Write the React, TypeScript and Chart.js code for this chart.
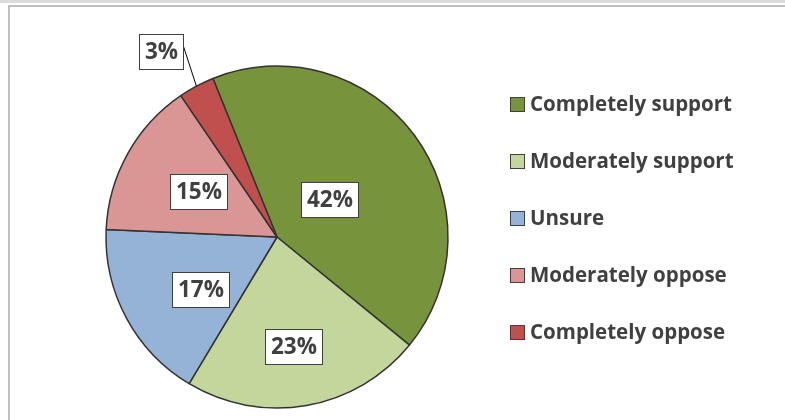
import React, { useEffect, useRef } from "react";
import { Chart, registerables } from "chart.js";

Chart.register(...registerables);

const categories = [
  "Completely support",
  "Moderately support",
  "Unsure",
  "Moderately oppose",
  "Completely oppose",
];
const shares = [42.0, 22.7, 17.1, 14.8, 3.4];
const shareLabels = ["42%", "23%", "17%", "15%", "3%"];
const colors = ["#77933C", "#C3D69B", "#95B3D7", "#D99694", "#C0504D"];

// label placement: fraction of radius and small angular nudge (degrees)
const labelPlacement = [
  { f: 0.38, da: 1 },
  { f: 0.645, da: 1.5 },
  { f: 0.54, da: -6 },
  { f: 0.53, da: 1 },
  { f: 1.28, da: -4 },
];

const FONT = "'Open Sans', Lato, sans-serif";
const TEXT = "#404040";

const labelPlugin = {
  id: "boxLabels",
  afterDatasetsDraw(chart: any) {
    const ctx = chart.ctx;
    const meta = chart.getDatasetMeta(0);
    ctx.save();
    meta.data.forEach((arc: any, i: number) => {
      const p = arc.getProps(["x", "y", "startAngle", "endAngle", "outerRadius"], true);
      const { f, da } = labelPlacement[i];
      const midRaw = (p.startAngle + p.endAngle) / 2;
      const mid = midRaw + (da * Math.PI) / 180;
      const lx = p.x + Math.cos(mid) * p.outerRadius * f;
      const ly = p.y + Math.sin(mid) * p.outerRadius * f;
      const text = shareLabels[i];
      ctx.font = `bold 22.5px ${FONT}`;
      const tw = ctx.measureText(text).width;
      const bw = Math.round(tw + 11);
      const bh = 35;
      const bx = Math.round(lx - bw / 2) + 0.5;
      const by = Math.round(ly - bh / 2) + 0.5;
      if (f > 1) {
        const ax = p.x + Math.cos(midRaw) * p.outerRadius;
        const ay = p.y + Math.sin(midRaw) * p.outerRadius;
        ctx.beginPath();
        ctx.strokeStyle = "#000";
        ctx.lineWidth = 1;
        ctx.moveTo(ax, ay);
        ctx.lineTo(bx + bw, by + 12);
        ctx.stroke();
      }
      ctx.fillStyle = "#fff";
      ctx.fillRect(bx, by, bw, bh);
      ctx.strokeStyle = "#404040";
      ctx.lineWidth = 1;
      ctx.strokeRect(bx, by, bw, bh);
      ctx.fillStyle = TEXT;
      ctx.textAlign = "center";
      ctx.textBaseline = "middle";
      ctx.fillText(text, bx + bw / 2, by + bh / 2 + 1);
    });
    ctx.restore();
  },
};

const legendPlugin = {
  id: "sideLegend",
  afterDraw(chart: any) {
    const ctx = chart.ctx;
    ctx.save();
    categories.forEach((name, i) => {
      const cy = 105 + i * 57;
      ctx.fillStyle = colors[i];
      ctx.fillRect(510.5, cy - 7.5, 14, 14);
      ctx.strokeStyle = "#404040";
      ctx.lineWidth = 1;
      ctx.strokeRect(510.5, cy - 7.5, 14, 14);
      ctx.fillStyle = TEXT;
      ctx.font = `bold 20.5px ${FONT}`;
      ctx.textAlign = "left";
      ctx.textBaseline = "middle";
      ctx.fillText(name, 530, cy);
    });
    ctx.restore();
  },
};

export default function App() {
  const ref = useRef<HTMLCanvasElement | null>(null);
  useEffect(() => {
    if (!ref.current) return;
    const chart = new Chart(ref.current, {
      type: "pie",
      data: {
        labels: categories,
        datasets: [
          {
            data: shares,
            backgroundColor: colors,
            borderColor: "#333333",
            borderWidth: 1.5,
            hoverOffset: 0,
          },
        ],
      },
      options: {
        responsive: false,
        animation: false,
        rotation: -22,
        radius: 171,
        layout: { padding: { left: 106, right: 337, top: 66, bottom: 12 } },
        plugins: {
          legend: { display: false },
          tooltip: { enabled: false },
        },
        events: [],
      },
      plugins: [labelPlugin, legendPlugin],
    });
    return () => chart.destroy();
  }, []);

  return (
    <div style={{ position: "fixed", left: 0, top: 0, width: 785, height: 420, background: "#fff", overflow: "hidden" }}>
      <div style={{ position: "absolute", left: 0, top: 0, width: 785, height: 3, background: "#dcdcdc" }} />
      <div
        style={{
          position: "absolute",
          left: 8,
          top: 5,
          width: 900,
          height: 500,
          borderLeft: "2px solid #bfbfbf",
          borderTop: "2px solid #bfbfbf",
        }}
      />
      <canvas ref={ref} width={785} height={420} style={{ position: "absolute", left: 0, top: 0, width: 785, height: 420 }} />
    </div>
  );
}
